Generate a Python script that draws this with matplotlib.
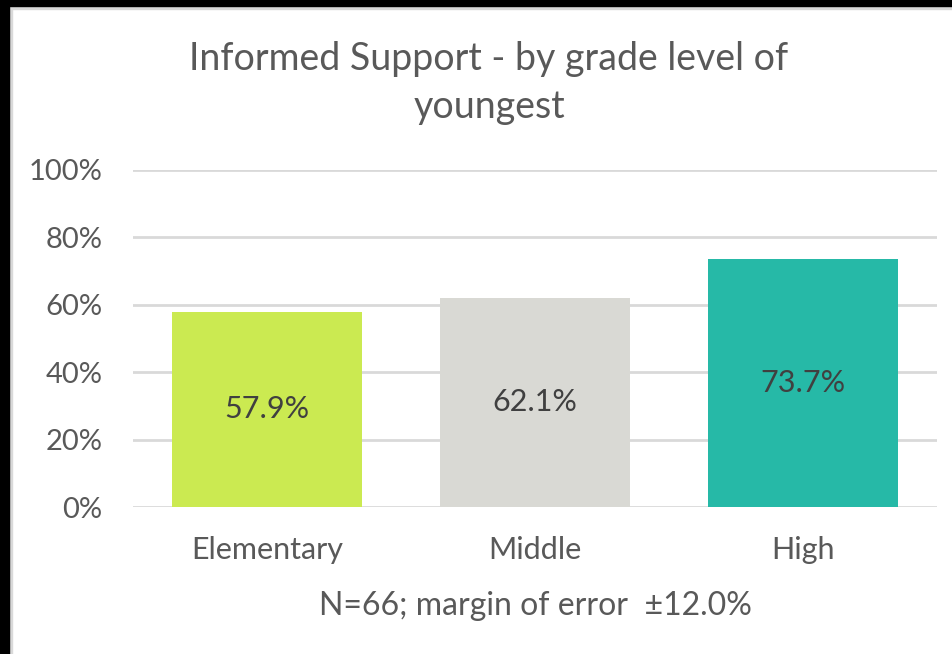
import matplotlib
matplotlib.use("Agg")
import matplotlib.pyplot as plt
from matplotlib.patches import Rectangle

categories = ["Elementary", "Middle", "High"]
values = [57.9, 62.1, 73.7]
labels = ["57.9%", "62.1%", "73.7%"]
colors = ["#cbea51", "#d9d9d4", "#26b9a7"]
yticks = [0, 20, 40, 60, 80, 100]
ytick_labels = ["0%", "20%", "40%", "60%", "80%", "100%"]
title = "Informed Support - by grade level of\nyoungest"
xlabel = "N=66; margin of error  \u00b112.0%"

plt.rcParams['font.family'] = ['Lato', 'DejaVu Sans']

W, H = 953, 654
fig = plt.figure(figsize=(W / 100, H / 100), dpi=100)
fig.patch.set_facecolor("white")

# frame edges from screenshot
fig.patches.append(Rectangle((0, 1 - 6 / H), 1, 6 / H, transform=fig.transFigure, color="black", zorder=10))
fig.patches.append(Rectangle((0, 1 - 9 / H), 1, 3 / H, transform=fig.transFigure, color="#d9d9d9", zorder=9))
fig.patches.append(Rectangle((0, 0), 9 / W, 1, transform=fig.transFigure, color="black", zorder=10))
fig.patches.append(Rectangle((9 / W, 0), 3 / W, 1 - 6 / H, transform=fig.transFigure, color="#d9d9d9", zorder=9))

left, right = 133, 937
top, bottom = 170, 507
ax = fig.add_axes([left / W, 1 - bottom / H, (right - left) / W, (bottom - top) / H])

x = range(len(categories))
bars = ax.bar(x, values, width=0.71, color=colors, zorder=3)
for xi, v, lab in zip(x, values, labels):
    ax.text(xi, v / 2, lab, ha="center", va="center", fontsize=22, color="#404040", zorder=4)

ax.set_xlim(-0.5, 2.5)
ax.set_ylim(0, 100)
ax.set_yticks(yticks)
ax.set_yticklabels(ytick_labels)
ax.set_xticks(list(x))
ax.set_xticklabels(categories)
ax.tick_params(axis="both", length=0, colors="#595959")
ax.tick_params(axis="y", pad=22, labelsize=21)
ax.tick_params(axis="x", pad=21, labelsize=22)
ax.grid(axis="y", color="#d9d9d9", linewidth=2, zorder=0)
for s in ax.spines.values():
    s.set_visible(False)

ax.set_xlabel(xlabel, fontsize=23, color="#595959", labelpad=19)

fig.text(489 / W, 1 - 83 / H, title, ha="center", va="center", fontsize=27, color="#595959", linespacing=1.42)

fig.savefig("out.png", dpi=100, facecolor="white")
